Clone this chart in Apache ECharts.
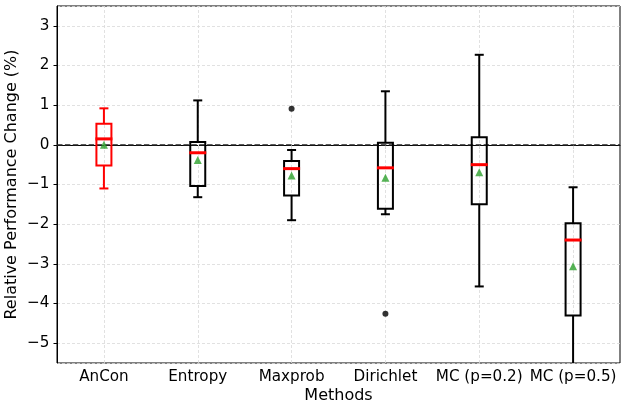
<!DOCTYPE html>
<html>
<head>
<meta charset="utf-8">
<script src="https://cdn.jsdelivr.net/npm/echarts@6/dist/echarts.min.js"></script>
<style>
    html, body { margin: 0; padding: 0; background: #fff; }
    #chart { width: 627px; height: 411px; }
</style>
</head>
<body>
<div id="chart"></div>
<script>
const methods = ['AnCon', 'Entropy', 'Maxprob', 'Dirichlet', 'MC (p=0.2)', 'MC (p=0.5)']
const whiskerLow = [-1.10, -1.32, -1.90, -1.75, -3.57, -5.90]
const q1 = [-0.52, -1.04, -1.28, -1.61, -1.50, -4.30]
const medians = [0.15, -0.20, -0.60, -0.58, -0.50, -2.40]
const q3 = [0.53, 0.07, -0.41, 0.05, 0.19, -1.98]
const whiskerHigh = [0.92, 1.12, -0.13, 1.35, 2.27, -1.07]
const means = [0.00, -0.38, -0.77, -0.83, -0.69, -3.06]
const outliers = [['Maxprob', 0.91], ['Dirichlet', -4.26]]
const yTicks = [-5, -4, -3, -2, -1, 0, 1, 2, 3]

const chart = echarts.init(document.getElementById('chart'))
const font = 'DejaVu Sans'

const boxData = methods.map((m, i) => [i, whiskerLow[i], q1[i], medians[i], q3[i], whiskerHigh[i]])

// draws box, whiskers, caps and median the matplotlib way
function renderBox(params, api) {
    const idx = api.value(0)
    const color = idx === 0 ? '#ff0000' : '#000000'
    const pLow = api.coord([idx, api.value(1)])
    const pQ1 = api.coord([idx, api.value(2)])
    const pMed = api.coord([idx, api.value(3)])
    const pQ3 = api.coord([idx, api.value(4)])
    const pHigh = api.coord([idx, api.value(5)])
    const cx = pLow[0]
    const bw = 15, cw = 9, mw = 17
    const line = { stroke: color, lineWidth: 2 }
    return {
        type: 'group',
        children: [
            { type: 'line', shape: { x1: cx, y1: pQ1[1], x2: cx, y2: pLow[1] }, style: line },
            { type: 'line', shape: { x1: cx, y1: pQ3[1], x2: cx, y2: pHigh[1] }, style: line },
            { type: 'line', shape: { x1: cx - cw / 2, y1: pLow[1], x2: cx + cw / 2, y2: pLow[1] }, style: line },
            { type: 'line', shape: { x1: cx - cw / 2, y1: pHigh[1], x2: cx + cw / 2, y2: pHigh[1] }, style: line },
            { type: 'rect', shape: { x: cx - bw / 2, y: pQ3[1], width: bw, height: pQ1[1] - pQ3[1] }, style: { fill: 'none', stroke: color, lineWidth: 2 } },
            { type: 'line', shape: { x1: cx - mw / 2, y1: pMed[1], x2: cx + mw / 2, y2: pMed[1] }, style: { stroke: '#ff0000', lineWidth: 3 } }
        ]
    }
}

const option = {
    backgroundColor: '#fff',
    animation: false,
    grid: {
        left: 57,
        right: 7,
        top: 6,
        bottom: 48,
        containLabel: false,
        outerBoundsMode: 'none',
        show: true,
        borderColor: '#000',
        borderWidth: 1
    },
    xAxis: {
        type: 'category',
        data: methods,
        boundaryGap: true,
        name: 'Methods',
        nameLocation: 'middle',
        nameGap: 25,
        nameMoveOverlap: false,
        nameTextStyle: { fontFamily: font, fontSize: 16, color: '#000' },
        axisLine: { show: true, lineStyle: { color: '#000', width: 1 } },
        axisTick: { show: true, alignWithLabel: true, length: 4, lineStyle: { color: '#ccc' } },
        axisLabel: { fontFamily: font, fontSize: 15.2, color: '#000', margin: 7, interval: 0 },
        splitLine: { show: false }
    },
    yAxis: {
        type: 'value',
        min: -5.5,
        max: 3.5,
        splitNumber: 9,
        minInterval: 1,
        maxInterval: 1,
        name: 'Relative Performance Change (%)',
        nameLocation: 'middle',
        nameGap: 37,
        nameMoveOverlap: false,
        nameTextStyle: { fontFamily: font, fontSize: 16, color: '#000' },
        axisLine: { show: true, lineStyle: { color: '#000', width: 1 } },
        axisTick: { show: true, length: 3.5, lineStyle: { color: '#000' } },
        axisLabel: {
            fontFamily: font,
            fontSize: 15.2,
            color: '#000',
            margin: 7.5,
            showMinLabel: false,
            showMaxLabel: false,
            formatter: v => yTicks.indexOf(v) < 0 ? '' : (v < 0 ? '\u2212' + Math.abs(v) : String(v))
        },
        splitLine: { show: true, lineStyle: { color: '#d9d9d9', width: 0.8, type: [3, 2] } }
    },
    series: [
        {
            name: 'grid-x',
            type: 'line',
            data: [],
            silent: true,
            z: 1,
            markLine: {
                silent: true,
                z: 1,
                symbol: 'none',
                label: { show: false },
                lineStyle: { color: '#d9d9d9', width: 0.8, type: [3, 2] },
                data: methods.map(m => ({ xAxis: m }))
            }
        },
        {
            name: 'zero',
            type: 'line',
            data: [],
            silent: true,
            z: 3,
            markLine: {
                silent: true,
                z: 3,
                symbol: 'none',
                label: { show: false },
                lineStyle: { color: '#222', width: 1.6, type: [5.5, 2.4] },
                data: [{ yAxis: 0 }]
            }
        },
        {
            name: 'boxes',
            type: 'custom',
            renderItem: renderBox,
            clip: true,
            z: 4,
            encode: { x: 0, y: [1, 2, 3, 4, 5] },
            data: boxData
        },
        {
            name: 'mean',
            type: 'scatter',
            symbol: 'triangle',
            symbolSize: 8,
            z: 5,
            itemStyle: { color: '#2ca02c' },
            data: methods.map((m, i) => [m, means[i]])
        },
        {
            name: 'outliers',
            type: 'scatter',
            symbol: 'circle',
            symbolSize: 6,
            z: 5,
            itemStyle: { color: '#000' },
            data: outliers
        }
    ]
}

chart.setOption(option)
</script>
</body>
</html>
